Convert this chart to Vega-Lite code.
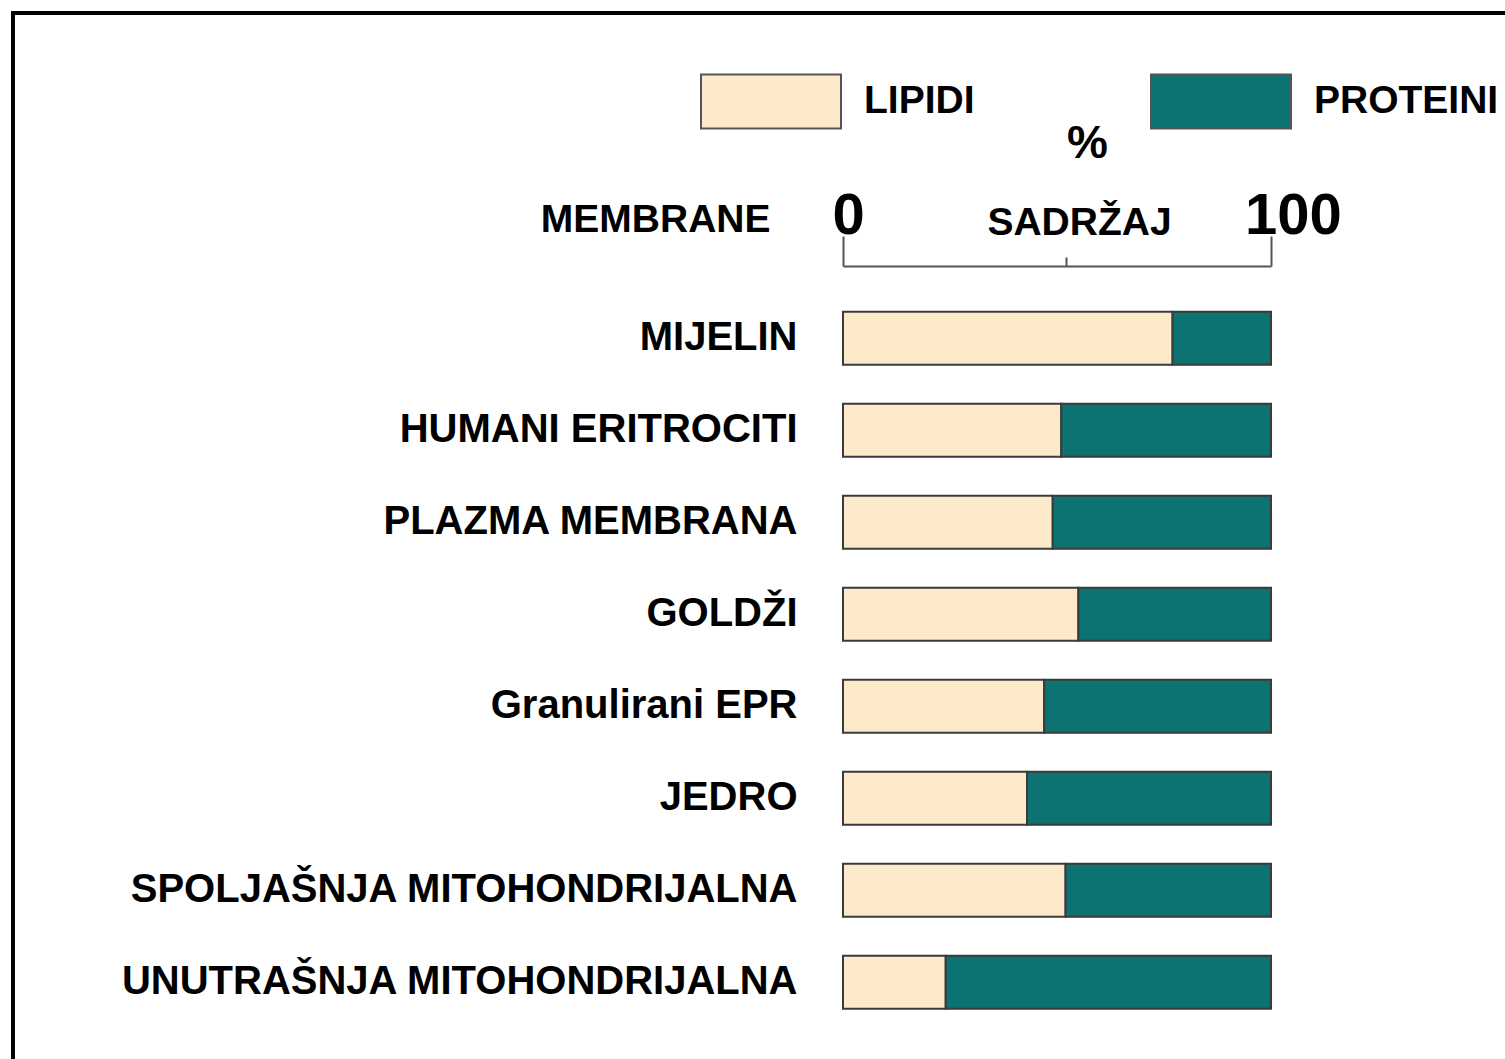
{
  "$schema": "https://vega.github.io/schema/vega-lite/v6.json",
  "autosize": {"type": "none"},
  "padding": {"left": 13, "top": 13, "right": -20, "bottom": -20},
  "width": 1512,
  "height": 1066,
  "background": "white",
  "config": {
    "view": {"stroke": "black", "strokeWidth": 4},
    "font": "Liberation Sans",
    "axis": {"grid": false}
  },
  "data": {
    "values": [
      {"membrana": "MIJELIN", "sastav": "LIPIDI", "udio": 77},
      {"membrana": "MIJELIN", "sastav": "PROTEINI", "udio": 23},
      {"membrana": "HUMANI ERITROCITI", "sastav": "LIPIDI", "udio": 51},
      {"membrana": "HUMANI ERITROCITI", "sastav": "PROTEINI", "udio": 49},
      {"membrana": "PLAZMA MEMBRANA", "sastav": "LIPIDI", "udio": 49},
      {"membrana": "PLAZMA MEMBRANA", "sastav": "PROTEINI", "udio": 51},
      {"membrana": "GOLDŽI", "sastav": "LIPIDI", "udio": 55},
      {"membrana": "GOLDŽI", "sastav": "PROTEINI", "udio": 45},
      {"membrana": "Granulirani EPR", "sastav": "LIPIDI", "udio": 47},
      {"membrana": "Granulirani EPR", "sastav": "PROTEINI", "udio": 53},
      {"membrana": "JEDRO", "sastav": "LIPIDI", "udio": 43},
      {"membrana": "JEDRO", "sastav": "PROTEINI", "udio": 57},
      {"membrana": "SPOLJAŠNJA MITOHONDRIJALNA", "sastav": "LIPIDI", "udio": 52},
      {"membrana": "SPOLJAŠNJA MITOHONDRIJALNA", "sastav": "PROTEINI", "udio": 48},
      {"membrana": "UNUTRAŠNJA MITOHONDRIJALNA", "sastav": "LIPIDI", "udio": 24},
      {"membrana": "UNUTRAŠNJA MITOHONDRIJALNA", "sastav": "PROTEINI", "udio": 76}
    ]
  },
  "resolve": {"axis": {"x": "independent"}},
  "layer": [
    {
      "mark": {"type": "bar", "stroke": "#3b3b3b", "strokeWidth": 2},
      "encoding": {
        "y": {
          "field": "membrana",
          "type": "nominal",
          "sort": ["MIJELIN", "HUMANI ERITROCITI", "PLAZMA MEMBRANA", "GOLDŽI", "Granulirani EPR", "JEDRO", "SPOLJAŠNJA MITOHONDRIJALNA", "UNUTRAŠNJA MITOHONDRIJALNA"],
          "scale": {"range": [298.75, 995.75], "paddingInner": 0.424, "paddingOuter": 0},
          "axis": {
            "orient": "left",
            "offset": -784,
            "domain": false,
            "ticks": false,
            "labelPadding": 0,
            "labelLimit": 1000,
            "labelFont": "Liberation Sans",
            "labelFontSize": 40,
            "labelFontWeight": "bold",
            "labelColor": "black",
            "title": "MEMBRANE",
            "titleAngle": 0,
            "titleAlign": "right",
            "titleBaseline": "middle",
            "titleX": -27,
            "titleY": 206,
            "titleFont": "Liberation Sans",
            "titleFontSize": 39,
            "titleFontWeight": "bold",
            "titleColor": "black"
          }
        },
        "x": {
          "field": "udio",
          "type": "quantitative",
          "stack": "zero",
          "scale": {"domain": [0, 100], "range": [830, 1258], "nice": false, "zero": false},
          "axis": {
            "orient": "top",
            "offset": -253,
            "values": [0, 52, 100],
            "labelExpr": "datum.value == 52 ? '' : datum.label",
            "tickSize": {"condition": {"test": "datum.value == 52", "value": 9}, "value": 30},
            "tickColor": "#555555",
            "tickWidth": 2,
            "domainColor": "#555555",
            "domainWidth": 2,
            "labelFlush": false,
            "labelOverlap": false,
            "labelBound": false,
            "labelFont": "Liberation Sans",
            "labelFontSize": 58,
            "labelFontWeight": "bold",
            "labelColor": "black",
            "labelBaseline": "alphabetic",
            "labelPadding": 3,
            "labelOffset": {"condition": {"test": "datum.value == 100", "value": 22}, "value": 5},
            "title": "SADRŽAJ",
            "titleX": 1066,
            "titleY": -44,
            "titleAlign": "center",
            "titleBaseline": "middle",
            "titleFont": "Liberation Sans",
            "titleFontSize": 39,
            "titleFontWeight": "bold",
            "titleColor": "black"
          }
        },
        "color": {
          "field": "sastav",
          "type": "nominal",
          "scale": {"domain": ["LIPIDI", "PROTEINI"], "range": ["#FDEACB", "#0C7272"]},
          "legend": {
            "orient": "none",
            "legendX": 687,
            "legendY": 17,
            "direction": "horizontal",
            "title": null,
            "padding": 0,
            "symbolType": "M-1,-0.386L1,-0.386L1,0.386L-1,0.386Z",
            "symbolSize": 19600,
            "symbolStrokeColor": "#555555",
            "symbolStrokeWidth": 2,
            "symbolOpacity": 1,
            "labelOffset": 22,
            "columnPadding": 172,
            "labelFont": "Liberation Sans",
            "labelFontSize": 39,
            "labelFontWeight": "bold",
            "labelColor": "black",
            "labelLimit": 600
          }
        }
      }
    },
    {
      "mark": {"type": "bar", "opacity": 0},
      "encoding": {
        "x": {
          "field": "udio",
          "type": "quantitative",
          "stack": "zero",
          "axis": {
            "orient": "top",
            "offset": -253,
            "domain": false,
            "ticks": false,
            "labels": false,
            "title": "%",
            "titleX": 1074,
            "titleY": -123,
            "titleAlign": "center",
            "titleBaseline": "middle",
            "titleFont": "Liberation Sans",
            "titleFontSize": 46,
            "titleFontWeight": "bold",
            "titleColor": "black"
          }
        }
      }
    }
  ]
}
